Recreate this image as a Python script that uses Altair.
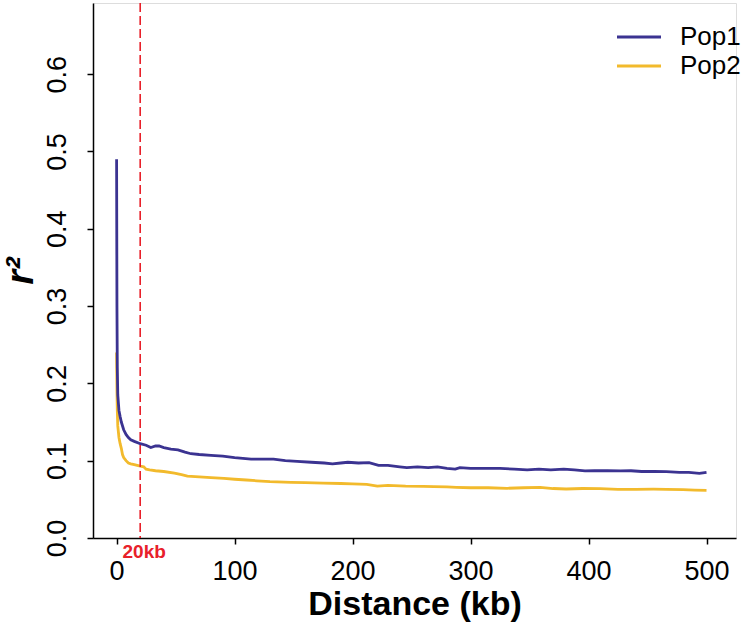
import altair as alt
import pandas as pd

# ---- data ----
pop1_x = [0, 0.3, 0.6, 1, 2, 3, 4, 6, 8, 10, 12, 15, 20, 25, 29, 33, 36, 40, 46, 52, 58, 63, 70, 80, 90,
          100, 107, 114, 122, 133, 143, 153, 165, 176, 183, 190, 196, 205, 214, 222, 230, 240, 246, 255,
          264, 272, 280, 287, 291, 300, 312, 325, 337, 348, 358, 368, 379, 388, 397, 405, 416, 427, 436,
          445, 456, 466, 477, 485, 494, 500]
pop1_y = [0.490, 0.300, 0.220, 0.185, 0.165, 0.157, 0.150, 0.140, 0.134, 0.130, 0.127, 0.125, 0.122,
          0.120, 0.117, 0.119, 0.119, 0.117, 0.115, 0.114, 0.111, 0.109, 0.108, 0.107, 0.106, 0.104,
          0.103, 0.102, 0.102, 0.102, 0.100, 0.099, 0.098, 0.097, 0.096, 0.097, 0.098, 0.097, 0.0975,
          0.094, 0.094, 0.092, 0.091, 0.092, 0.091, 0.092, 0.090, 0.089, 0.091, 0.090, 0.090, 0.090,
          0.089, 0.088, 0.089, 0.088, 0.089, 0.088, 0.0867, 0.087, 0.087, 0.0867, 0.087, 0.086, 0.086,
          0.0858, 0.085, 0.085, 0.0837, 0.085]

pop2_x = [0, 0.3, 0.6, 1, 2, 3, 4, 5, 6, 8, 10, 12, 15, 20, 23, 25, 28, 33, 40, 49, 55, 60, 70, 80, 91,
          100, 110, 119, 130, 148, 160, 175, 190, 200, 212, 221, 230, 245, 260, 269, 280, 288, 300, 315,
          331, 345, 359, 370, 381, 395, 410, 425, 440, 455, 466, 480, 490, 500]
pop2_y = [0.240, 0.190, 0.165, 0.145, 0.130, 0.122, 0.116, 0.108, 0.104, 0.100, 0.097, 0.096, 0.095,
          0.093, 0.092, 0.089, 0.088, 0.087, 0.086, 0.084, 0.082, 0.080, 0.079, 0.078, 0.077, 0.076,
          0.075, 0.074, 0.073, 0.072, 0.0715, 0.071, 0.0705, 0.070, 0.0694, 0.067, 0.068, 0.067, 0.0667,
          0.0664, 0.066, 0.0656, 0.065, 0.065, 0.0643, 0.065, 0.0656, 0.064, 0.0634, 0.064, 0.0638,
          0.063, 0.063, 0.0632, 0.063, 0.0625, 0.062, 0.0617]

series = ["Pop1", "Pop2"]
colors = ["#3B3391", "#F2BA2C"]
x_ticks = [0, 100, 200, 300, 400, 500]
y_ticks = [0.0, 0.1, 0.2, 0.3, 0.4, 0.5, 0.6]
cutoff = [20]
cutoff_label = ["20kb"]

df = pd.concat([
    pd.DataFrame({"dist": pop1_x, "r2": pop1_y, "pop": "Pop1"}),
    pd.DataFrame({"dist": pop2_x, "r2": pop2_y, "pop": "Pop2"}),
])
cut_df = pd.DataFrame({"dist": cutoff, "label": cutoff_label, "r2": [0.0]})

FONT = "Liberation Sans"

xs = alt.Scale(domain=[-20, 525], nice=False, zero=False)
ys = alt.Scale(domain=[0, 0.692], nice=False, zero=False)

x_axis = alt.Axis(values=x_ticks, title="Distance (kb)", grid=False, labelFontSize=27,
                  labelFont=FONT, titleFont=FONT, titleFontSize=34, titleFontWeight="bold",
                  titleColor="black", labelColor="black", domainColor="black", tickColor="black",
                  domainWidth=1.5, tickWidth=1.5, tickSize=6, labelPadding=14, titlePadding=3,
                  labelFlush=False)
y_axis = alt.Axis(values=y_ticks, format=".1f", title="r²", grid=False, labelFontSize=27,
                  labelFont=FONT, titleFont=FONT, titleFontSize=38, titleFontWeight="bold",
                  titleFontStyle="italic", titleColor="black", labelColor="black",
                  domainColor="black", tickColor="black", domainWidth=1.5, tickWidth=1.5,
                  tickSize=6, labelAngle=270, labelAlign="center", labelBaseline="bottom",
                  labelPadding=16, titlePadding=3, labelFlush=False)

color = alt.Color("pop:N", scale=alt.Scale(domain=series, range=colors),
                  legend=alt.Legend(orient="none", legendX=533, legendY=21, title=None,
                                    symbolType="M-2,0L2,0", symbolSize=484, symbolStrokeWidth=3,
                                    labelFontSize=26, labelFont=FONT, labelColor="black",
                                    rowPadding=3, labelOffset=28))

base = alt.Chart(df)
line2 = base.transform_filter(alt.datum.pop == "Pop2").mark_line(strokeWidth=2.8).encode(
    x=alt.X("dist:Q", scale=xs, axis=x_axis),
    y=alt.Y("r2:Q", scale=ys, axis=y_axis),
    color=color,
)
line1 = base.transform_filter(alt.datum.pop == "Pop1").mark_line(strokeWidth=2.8).encode(
    x=alt.X("dist:Q", scale=xs),
    y=alt.Y("r2:Q", scale=ys),
    color=color,
)
vline = alt.Chart(cut_df).mark_rule(color="#E8202A", strokeWidth=1.6, strokeDash=[9, 4]).encode(
    x=alt.X("dist:Q", scale=xs)
)
vtext = alt.Chart(cut_df).mark_text(color="#E8202A", font=FONT, fontSize=19, fontWeight="bold",
                                    dx=4, dy=20, baseline="alphabetic", align="center").encode(
    x=alt.X("dist:Q", scale=xs), y=alt.Y("r2:Q", scale=ys), text="label:N"
)

chart = alt.layer(line2, line1, vline, vtext).properties(
    width=643, height=535,
    autosize=alt.AutoSizeParams(type="none"),
    padding={"left": 93, "top": 3, "right": 8, "bottom": 87},
).configure_view(stroke=None).configure(background="white")

chart.save("out.html", embed_options={"renderer": "svg", "actions": False})
